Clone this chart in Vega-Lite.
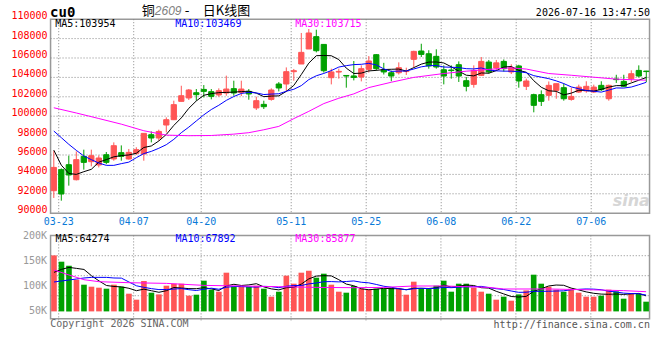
{
"$schema":"https://vega.github.io/schema/vega-lite/v6.json",
"background":"white",
"padding":{"left":10.55,"top":4.2,"right":5,"bottom":5},
"bounds":"flush",
"spacing":22.2,
"config":{
 "view":{"stroke":"#999999","strokeWidth":1.5}
},
"datasets":{
"k":[
{"d":"03-20","o":92320,"h":96440,"l":91570,"c":94720,"v":162000,"m5":96500,"m10":98470,"vm5":128000,"vm10":108800},
{"d":"03-23","o":94490,"h":94620,"l":91290,"c":91980,"v":149400,"m5":94950,"m10":97790,"vm5":134000,"vm10":110800},
{"d":"03-24","o":95000,"h":95930,"l":92840,"c":93940,"v":141400,"m5":94100,"m10":97100,"vm5":138000,"vm10":112800},
{"d":"03-25","o":93450,"h":96370,"l":93380,"c":95520,"v":113400,"m5":94000,"m10":96480,"vm5":136000,"vm10":114800},
{"d":"03-26","o":95860,"h":96550,"l":94490,"c":95240,"v":103400,"m5":94279,"m10":95900,"vm5":133900,"vm10":116800},
{"d":"03-27","o":95310,"h":96550,"l":94830,"c":95930,"v":99400,"m5":94521,"m10":95520,"vm5":121400,"vm10":118000},
{"d":"03-30","o":94970,"h":95960,"l":94720,"c":95690,"v":97400,"m5":95263,"m10":95170,"vm5":111000,"vm10":118000},
{"d":"03-31","o":96030,"h":96310,"l":95050,"c":95240,"v":95400,"m5":95523,"m10":94930,"vm5":101800,"vm10":118000},
{"d":"04-01","o":95590,"h":97300,"l":95410,"c":96960,"v":103400,"m5":95812,"m10":94930,"vm5":99800,"vm10":116800},
{"d":"04-02","o":96240,"h":96990,"l":95410,"c":95860,"v":99400,"m5":95936,"m10":95108,"vm5":99000,"vm10":116500},
{"d":"04-03","o":95590,"h":96620,"l":95520,"c":96270,"v":85400,"m5":96004,"m10":95263,"vm5":96200,"vm10":108800},
{"d":"04-07","o":96170,"h":96800,"l":96000,"c":96550,"v":73400,"m5":96176,"m10":95720,"vm5":91400,"vm10":101200},
{"d":"04-08","o":96100,"h":98230,"l":95410,"c":98230,"v":110800,"m5":96774,"m10":96149,"vm5":94500,"vm10":98100},
{"d":"04-09","o":98090,"h":98430,"l":97300,"c":97750,"v":87400,"m5":96932,"m10":96372,"vm5":91300,"vm10":95500},
{"d":"04-10","o":97750,"h":98610,"l":97470,"c":98430,"v":84000,"m5":97446,"m10":96691,"vm5":88200,"vm10":93600},
{"d":"04-13","o":99090,"h":99880,"l":98330,"c":99640,"v":101400,"m5":98120,"m10":97062,"vm5":91400,"vm10":93800},
{"d":"04-14","o":99640,"h":101600,"l":99600,"c":101190,"v":105400,"m5":99048,"m10":97612,"vm5":97800,"vm10":94600},
{"d":"04-15","o":101530,"h":103140,"l":101530,"c":102110,"v":105400,"m5":99824,"m10":98299,"vm5":96700,"vm10":95600},
{"d":"04-16","o":101880,"h":102800,"l":101670,"c":102700,"v":81400,"m5":100814,"m10":98873,"vm5":95500,"vm10":93400},
{"d":"04-17","o":102420,"h":102800,"l":101600,"c":102220,"v":83400,"m5":101572,"m10":99509,"vm5":95400,"vm10":91800},
{"d":"04-20","o":102760,"h":103210,"l":101940,"c":102560,"v":111400,"m5":102156,"m10":100138,"vm5":97400,"vm10":94400},
{"d":"04-21","o":102530,"h":102800,"l":101740,"c":102040,"v":93400,"m5":102326,"m10":100687,"vm5":95000,"vm10":96400},
{"d":"04-22","o":102190,"h":102870,"l":102010,"c":102630,"v":89400,"m5":102430,"m10":101127,"vm5":91800,"vm10":94300},
{"d":"04-23","o":102390,"h":104180,"l":102110,"c":102800,"v":127400,"m5":102450,"m10":101632,"vm5":101000,"vm10":98300},
{"d":"04-24","o":102840,"h":103660,"l":102110,"c":102390,"v":99400,"m5":102484,"m10":102028,"vm5":104200,"vm10":99800},
{"d":"04-27","o":102460,"h":103660,"l":102080,"c":102800,"v":99400,"m5":102532,"m10":102344,"vm5":101800,"vm10":99600},
{"d":"04-28","o":102560,"h":102800,"l":101700,"c":102290,"v":99400,"m5":102582,"m10":102454,"vm5":103000,"vm10":99000},
{"d":"04-29","o":100850,"h":102010,"l":100640,"c":101600,"v":101400,"m5":102376,"m10":102403,"vm5":105400,"vm10":98600},
{"d":"04-30","o":101220,"h":101600,"l":100740,"c":100980,"v":95400,"m5":102012,"m10":102231,"vm5":99000,"vm10":100000},
{"d":"05-06","o":101730,"h":102870,"l":101600,"c":102700,"v":79400,"m5":102074,"m10":102279,"vm5":95000,"vm10":99600},
{"d":"05-07","o":103320,"h":103520,"l":102560,"c":102910,"v":89400,"m5":102096,"m10":102314,"vm5":93000,"vm10":97400},
{"d":"05-08","o":103320,"h":105030,"l":102560,"c":104590,"v":121400,"m5":102556,"m10":102569,"vm5":97400,"vm10":100200},
{"d":"05-11","o":104590,"h":104870,"l":103660,"c":104690,"v":105400,"m5":103174,"m10":102775,"vm5":98200,"vm10":101800},
{"d":"05-12","o":105380,"h":108580,"l":105380,"c":106580,"v":127400,"m5":104294,"m10":103153,"vm5":104600,"vm10":101800},
{"d":"05-13","o":106930,"h":108990,"l":106930,"c":108580,"v":131400,"m5":105470,"m10":103772,"vm5":115000,"vm10":105000},
{"d":"05-14","o":108200,"h":108920,"l":106580,"c":106750,"v":117400,"m5":106238,"m10":104167,"vm5":120600,"vm10":106800},
{"d":"05-15","o":107400,"h":107400,"l":104500,"c":104690,"v":125400,"m5":106258,"m10":104407,"vm5":121400,"vm10":109400},
{"d":"05-18","o":103970,"h":104900,"l":103280,"c":104560,"v":103400,"m5":106232,"m10":104703,"vm5":121000,"vm10":109600},
{"d":"05-19","o":104550,"h":104900,"l":103870,"c":104620,"v":89400,"m5":105840,"m10":105067,"vm5":113400,"vm10":109000},
{"d":"05-20","o":104200,"h":104210,"l":102940,"c":104140,"v":87400,"m5":104952,"m10":105211,"vm5":104600,"vm10":109800},
{"d":"05-21","o":104150,"h":105690,"l":103690,"c":103990,"v":100800,"m5":104400,"m10":105319,"vm5":101300,"vm10":110900},
{"d":"05-22","o":104040,"h":105240,"l":103590,"c":104900,"v":95400,"m5":104442,"m10":105350,"vm5":95300,"vm10":108300},
{"d":"05-25","o":104830,"h":106200,"l":104500,"c":105690,"v":93400,"m5":104668,"m10":105450,"vm5":93300,"vm10":107100},
{"d":"05-26","o":106340,"h":106400,"l":104700,"c":104900,"v":95400,"m5":104724,"m10":105282,"vm5":94500,"vm10":103900},
{"d":"05-27","o":104790,"h":105500,"l":104300,"c":104560,"v":95400,"m5":104808,"m10":104880,"vm5":96100,"vm10":100300},
{"d":"05-28","o":104480,"h":104700,"l":103600,"c":104140,"v":97400,"m5":104838,"m10":104619,"vm5":95400,"vm10":98300},
{"d":"05-29","o":104480,"h":105550,"l":104300,"c":105000,"v":95400,"m5":104858,"m10":104650,"vm5":95400,"vm10":95300},
{"d":"06-01","o":104600,"h":105000,"l":104250,"c":104650,"v":83400,"m5":104650,"m10":104659,"vm5":93400,"vm10":93300},
{"d":"06-02","o":105860,"h":106750,"l":105000,"c":106680,"v":109400,"m5":105006,"m10":104865,"vm5":96200,"vm10":95300},
{"d":"06-03","o":106720,"h":107470,"l":106100,"c":106370,"v":95400,"m5":105368,"m10":105088,"vm5":96200,"vm10":96100},
{"d":"06-04","o":106440,"h":106800,"l":104900,"c":105180,"v":95400,"m5":105576,"m10":105207,"vm5":95800,"vm10":95600},
{"d":"06-05","o":106170,"h":106900,"l":104900,"c":105070,"v":101400,"m5":105590,"m10":105224,"vm5":97000,"vm10":96200},
{"d":"06-08","o":104790,"h":105240,"l":103280,"c":104140,"v":111400,"m5":105488,"m10":105069,"vm5":102600,"vm10":98000},
{"d":"06-09","o":104760,"h":105240,"l":103870,"c":104700,"v":89400,"m5":105092,"m10":105049,"vm5":98600,"vm10":97400},
{"d":"06-10","o":105310,"h":105650,"l":103530,"c":104140,"v":105400,"m5":104646,"m10":105007,"vm5":100600,"vm10":98400},
{"d":"06-11","o":103660,"h":104040,"l":102560,"c":103080,"v":105400,"m5":104226,"m10":104901,"vm5":102600,"vm10":99200},
{"d":"06-12","o":103280,"h":105240,"l":102940,"c":104720,"v":97400,"m5":104156,"m10":104873,"vm5":101800,"vm10":99400},
{"d":"06-15","o":104210,"h":106100,"l":104140,"c":105650,"v":89400,"m5":104458,"m10":104973,"vm5":97400,"vm10":100000},
{"d":"06-16","o":105580,"h":105800,"l":104400,"c":104560,"v":85400,"m5":104430,"m10":104761,"vm5":96600,"vm10":97600},
{"d":"06-17","o":104970,"h":105800,"l":104700,"c":105500,"v":73400,"m5":104702,"m10":104674,"vm5":90200,"vm10":95400},
{"d":"06-18","o":105650,"h":105850,"l":104600,"c":104900,"v":79400,"m5":105066,"m10":104646,"vm5":85000,"vm10":93800},
{"d":"06-19","o":104560,"h":105350,"l":104350,"c":105000,"v":71400,"m5":105122,"m10":104639,"vm5":79800,"vm10":90800},
{"d":"06-22","o":105180,"h":105300,"l":102940,"c":103630,"v":84000,"m5":104718,"m10":104588,"vm5":78700,"vm10":88100},
{"d":"06-23","o":103080,"h":103870,"l":102700,"c":103630,"v":92000,"m5":104532,"m10":104481,"vm5":80000,"vm10":88300},
{"d":"06-24","o":102220,"h":102320,"l":100400,"c":101120,"v":123400,"m5":103656,"m10":104179,"vm5":90000,"vm10":90100},
{"d":"06-25","o":102220,"h":102660,"l":101050,"c":101530,"v":105400,"m5":102982,"m10":104024,"vm5":95200,"vm10":90100},
{"d":"06-26","o":102150,"h":103580,"l":101600,"c":103180,"v":99400,"m5":102618,"m10":103870,"vm5":100800,"vm10":90300},
{"d":"06-29","o":102660,"h":103350,"l":101800,"c":103350,"v":93400,"m5":102562,"m10":103640,"vm5":102700,"vm10":90700},
{"d":"06-30","o":102940,"h":103350,"l":101600,"c":101800,"v":89400,"m5":102196,"m10":103364,"vm5":102200,"vm10":91100},
{"d":"07-01","o":101730,"h":102940,"l":101600,"c":102040,"v":95400,"m5":102380,"m10":103018,"vm5":96600,"vm10":93300},
{"d":"07-02","o":102490,"h":103250,"l":102400,"c":103000,"v":87400,"m5":102674,"m10":102828,"vm5":93000,"vm10":94100},
{"d":"07-03","o":102600,"h":103600,"l":102420,"c":103080,"v":79400,"m5":102654,"m10":102636,"vm5":89000,"vm10":94900},
{"d":"07-06","o":102490,"h":103250,"l":102400,"c":103000,"v":79400,"m5":102584,"m10":102573,"vm5":86200,"vm10":94500},
{"d":"07-07","o":103180,"h":103600,"l":102600,"c":102730,"v":81400,"m5":102770,"m10":102483,"vm5":84600,"vm10":93400},
{"d":"07-08","o":101800,"h":103250,"l":101600,"c":103180,"v":93400,"m5":102998,"m10":102689,"vm5":84200,"vm10":90400},
{"d":"07-09","o":103830,"h":104270,"l":103430,"c":103770,"v":90000,"m5":103152,"m10":102913,"vm5":84700,"vm10":88900},
{"d":"07-10","o":103590,"h":104270,"l":103000,"c":103080,"v":75400,"m5":103152,"m10":102903,"vm5":83900,"vm10":86500},
{"d":"07-13","o":103870,"h":104730,"l":103520,"c":104380,"v":85400,"m5":103428,"m10":103006,"vm5":85100,"vm10":85700},
{"d":"07-14","o":104720,"h":105240,"l":104000,"c":104140,"v":85400,"m5":103708,"m10":103239,"vm5":85900,"vm10":85300},
{"d":"07-15","o":104650,"h":104680,"l":103520,"c":104600,"v":69400,"m5":103992,"m10":103495,"vm5":81100,"vm10":82700}
],
"m30":[
{"d":"03-20","p":100870},{"d":"03-25","p":100330},{"d":"03-30","p":99760},{"d":"04-02","p":99180},{"d":"04-08","p":98500},{"d":"04-13","p":98050},{"d":"04-16","p":97990},{"d":"04-21","p":98010},{"d":"04-24","p":98150},{"d":"04-28","p":98300},{"d":"04-30","p":98600},{"d":"05-07","p":98950},{"d":"05-11","p":99750},{"d":"05-13","p":100500},{"d":"05-15","p":101300},{"d":"05-19","p":101850},{"d":"05-21","p":102300},{"d":"05-25","p":102950},{"d":"05-28","p":103500},{"d":"06-02","p":104000},{"d":"06-08","p":104400},{"d":"06-11","p":104640},{"d":"06-16","p":104830},{"d":"06-19","p":104980},{"d":"06-23","p":104860},{"d":"06-26","p":104400},{"d":"07-01","p":104220},{"d":"07-06","p":104020},{"d":"07-09","p":103820},{"d":"07-15","p":103710}
],
"vm30":[
{"d":"03-20","v":132800},{"d":"03-24","v":122800},{"d":"03-26","v":113400},{"d":"03-30","v":109400},{"d":"04-03","v":107400},{"d":"04-13","v":106000},{"d":"04-20","v":102000},{"d":"04-27","v":100800},{"d":"05-07","v":99400},{"d":"05-14","v":98000},{"d":"05-21","v":97400},{"d":"05-27","v":98000},{"d":"06-02","v":100800},{"d":"06-08","v":100800},{"d":"06-16","v":98000},{"d":"06-18","v":94800},{"d":"06-26","v":94800},{"d":"07-06","v":93000},{"d":"07-10","v":91500},{"d":"07-15","v":89400}
],
"plab":[{"d":"03-20","s":"MA5","t":"MA5:103954"},{"d":"04-14","s":"MA10","t":"MA10:103469"},{"d":"05-11","s":"MA30","t":"MA30:103715"}],
"vlab":[{"d":"03-20","s":"MA5","t":"MA5:64274"},{"d":"04-14","s":"MA10","t":"MA10:67892"},{"d":"05-11","s":"MA30","t":"MA30:85877"}],
"pgrid":[{"g":92000},{"g":94000},{"g":96000},{"g":98000},{"g":100000},{"g":102000},{"g":104000},{"g":106000},{"g":108000}],
"ptick":[{"g":90000},{"g":92000},{"g":94000},{"g":96000},{"g":98000},{"g":100000},{"g":102000},{"g":104000},{"g":106000},{"g":108000},{"g":110000}],
"xgrid":[{"d":"03-23"},{"d":"04-07"},{"d":"04-20"},{"d":"05-11"},{"d":"05-25"},{"d":"06-08"},{"d":"06-22"},{"d":"07-06"}],
"vgrid":[{"g":161400},{"g":121400},{"g":81400}],
"vtick":[{"g":50000,"t":"50K"},{"g":100000,"t":"100K"},{"g":150000,"t":"150K"},{"g":200000,"t":"200K"}]
},
"vconcat":[
{
"width":599,"height":194,
"layer":[
{"data":{"name":"pgrid"},"mark":{"type":"rule","color":"#888888","strokeDash":[1,2],"strokeWidth":1,"xOffset":-3.25,"x2Offset":3.25},
 "encoding":{"y":{"field":"g","type":"quantitative","title":null},"x":{"datum":"03-20","type":"ordinal","title":null},"x2":{"datum":"07-15"}}},
{"data":{"name":"xgrid"},"mark":{"type":"rule","color":"#888888","strokeDash":[1,2],"strokeWidth":1,"xOffset":-2.6},
 "encoding":{"x":{"field":"d","type":"ordinal","title":null},"y":{"datum":110000,"type":"quantitative","title":null},"y2":{"datum":90000}}},
{"data":{"name":"xgrid"},"mark":{"type":"text","align":"center","baseline":"middle","xOffset":-2.6,"font":"DejaVu Sans Mono","fontSize":10,"color":"#0a7ad8"},
 "encoding":{"x":{"field":"d","type":"ordinal","title":null},"y":{"datum":89120,"type":"quantitative","title":null},"text":{"field":"d"}}},
{"data":{"name":"ptick"},"mark":{"type":"text","align":"right","baseline":"middle","dy":-3,"xOffset":-6.3,"font":"DejaVu Sans Mono","fontSize":10,"color":"#ff0000"},
 "encoding":{"y":{"field":"g","type":"quantitative","title":null},"x":{"datum":"03-20","type":"ordinal","title":null},"text":{"field":"g","type":"quantitative","format":"d"}}},
{"data":{"name":"k"},"mark":{"type":"rule","strokeWidth":1},
 "encoding":{
  "x":{"field":"d","type":"ordinal","title":null,"scale":{"paddingInner":0.3,"paddingOuter":0.083},"axis":null},
  "y":{"field":"l","type":"quantitative","title":null,"scale":{"domain":[90000,110000],"nice":false,"zero":false},"axis":null},
  "y2":{"field":"h"},
  "color":{"condition":{"test":"datum.c >= datum.o","value":"#ff5555"},"value":"#00a000"}}},
{"data":{"name":"k"},"mark":{"type":"bar","strokeWidth":1},
 "encoding":{
  "x":{"field":"d","type":"ordinal","title":null},
  "y":{"field":"o","type":"quantitative","title":null},
  "y2":{"field":"c"},
  "color":{"condition":{"test":"datum.c >= datum.o","value":"#ff5555"},"value":"#00a000"},
  "stroke":{"condition":{"test":"datum.c >= datum.o","value":"#ff5555"},"value":"#00a000"}}},
{"data":{"name":"k"},"mark":{"type":"line","color":"#000000","strokeWidth":1},
 "encoding":{"x":{"field":"d","type":"ordinal","title":null},"y":{"field":"m5","type":"quantitative","title":null}}},
{"data":{"name":"k"},"mark":{"type":"line","color":"#0000ff","strokeWidth":1},
 "encoding":{"x":{"field":"d","type":"ordinal","title":null},"y":{"field":"m10","type":"quantitative","title":null}}},
{"data":{"name":"m30"},"mark":{"type":"line","color":"#ff00ff","strokeWidth":1},
 "encoding":{"x":{"field":"d","type":"ordinal","title":null},"y":{"field":"p","type":"quantitative","title":null}}},
{"data":{"name":"plab"},"mark":{"type":"text","align":"left","baseline":"middle","dx":1.5,"font":"DejaVu Sans Mono","fontSize":10},
 "encoding":{"x":{"field":"d","type":"ordinal","title":null},"y":{"datum":109500,"type":"quantitative","title":null},"text":{"field":"t"},
  "color":{"field":"s","type":"nominal","scale":{"domain":["MA5","MA10","MA30"],"range":["#000000","#0000ff","#ff00ff"]},"legend":null}}},
{"data":{"values":[{"t":"cu0"}]},"mark":{"type":"text","align":"left","baseline":"middle","dx":-3.7,"font":"DejaVu Sans Mono","fontSize":14,"fontWeight":"bold","color":"#000000"},
 "encoding":{"x":{"datum":"03-20","type":"ordinal","title":null},"y":{"datum":110670,"type":"quantitative","title":null},"text":{"field":"t"}}},
{"data":{"values":[{"t":"铜"}]},"mark":{"type":"text","align":"left","baseline":"middle","dx":5.5,"font":"Noto Sans CJK SC","fontSize":13,"color":"#000000"},
 "encoding":{"x":{"datum":"04-07","type":"ordinal","title":null},"y":{"datum":110804,"type":"quantitative","title":null},"text":{"field":"t"}}},
{"data":{"values":[{"t":"2609"}]},"mark":{"type":"text","align":"left","baseline":"middle","dx":18.5,"font":"Liberation Sans","fontSize":12,"fontStyle":"italic","color":"#808080"},
 "encoding":{"x":{"datum":"04-07","type":"ordinal","title":null},"y":{"datum":110804,"type":"quantitative","title":null},"text":{"field":"t"}}},
{"data":{"values":[{"t":"-"}]},"mark":{"type":"text","align":"left","baseline":"middle","dx":48.5,"font":"DejaVu Sans","fontSize":13,"color":"#000000"},
 "encoding":{"x":{"datum":"04-07","type":"ordinal","title":null},"y":{"datum":110804,"type":"quantitative","title":null},"text":{"field":"t"}}},
{"data":{"values":[{"t":"日K线图"}]},"mark":{"type":"text","align":"left","baseline":"middle","dx":66.5,"font":"Noto Sans CJK SC","fontSize":13,"color":"#000000"},
 "encoding":{"x":{"datum":"04-07","type":"ordinal","title":null},"y":{"datum":110804,"type":"quantitative","title":null},"text":{"field":"t"}}},
{"data":{"values":[{"t":"2026-07-16 13:47:50"}]},"mark":{"type":"text","align":"right","baseline":"middle","dx":3.8,"font":"DejaVu Sans Mono","fontSize":10,"color":"#000000"},
 "encoding":{"x":{"datum":"07-15","type":"ordinal","title":null},"y":{"datum":110670,"type":"quantitative","title":null},"text":{"field":"t"}}},
{"data":{"values":[{"t":"sina"}]},"mark":{"type":"text","align":"center","baseline":"middle","font":"DejaVu Sans","fontSize":16,"fontWeight":"bold","fontStyle":"italic","color":"#cccccc","opacity":0.8},
 "encoding":{"x":{"datum":"07-13","type":"ordinal","title":null},"y":{"datum":91300,"type":"quantitative","title":null},"text":{"field":"t"}}}
]
},
{
"width":599,"height":83.3,
"layer":[
{"data":{"name":"vgrid"},"mark":{"type":"rule","color":"#888888","strokeDash":[1,2],"strokeWidth":1,"xOffset":-3.25,"x2Offset":3.25},
 "encoding":{"y":{"field":"g","type":"quantitative","title":null},"x":{"datum":"03-20","type":"ordinal","title":null},"x2":{"datum":"07-15"}}},
{"data":{"name":"xgrid"},"mark":{"type":"rule","color":"#888888","strokeDash":[1,2],"strokeWidth":1,"xOffset":-2.8},
 "encoding":{"x":{"field":"d","type":"ordinal","title":null},"y":{"datum":202000,"type":"quantitative","title":null},"y2":{"datum":32000}}},
{"data":{"name":"vtick"},"mark":{"type":"text","align":"right","baseline":"middle","xOffset":-7,"font":"DejaVu Sans Mono","fontSize":10,"color":"#999999"},
 "encoding":{"y":{"field":"g","type":"quantitative","title":null},"x":{"datum":"03-20","type":"ordinal","title":null},"text":{"field":"t"}}},
{"data":{"name":"k"},"mark":{"type":"bar"},
 "encoding":{
  "x":{"field":"d","type":"ordinal","title":null,"scale":{"paddingInner":0.25,"paddingOuter":0.083},"axis":null},
  "y":{"field":"v","type":"quantitative","title":null,"scale":{"domain":[35400,202000],"nice":false,"zero":false},"axis":null},
  "y2":{"datum":50000},
  "color":{"condition":{"test":"datum.c >= datum.o","value":"#ff5555"},"value":"#00a000"}}},
{"data":{"name":"k"},"mark":{"type":"line","color":"#000000","strokeWidth":1},
 "encoding":{"x":{"field":"d","type":"ordinal","title":null},"y":{"field":"vm5","type":"quantitative","title":null}}},
{"data":{"name":"k"},"mark":{"type":"line","color":"#0000ff","strokeWidth":1},
 "encoding":{"x":{"field":"d","type":"ordinal","title":null},"y":{"field":"vm10","type":"quantitative","title":null}}},
{"data":{"name":"vm30"},"mark":{"type":"line","color":"#ff00ff","strokeWidth":1},
 "encoding":{"x":{"field":"d","type":"ordinal","title":null},"y":{"field":"v","type":"quantitative","title":null}}},
{"data":{"name":"vlab"},"mark":{"type":"text","align":"left","baseline":"middle","dx":1.5,"font":"DejaVu Sans Mono","fontSize":10},
 "encoding":{"x":{"field":"d","type":"ordinal","title":null},"y":{"datum":194800,"type":"quantitative","title":null},"text":{"field":"t"},
  "color":{"field":"s","type":"nominal","scale":{"domain":["MA5","MA10","MA30"],"range":["#000000","#0000ff","#ff00ff"]},"legend":null}}},
{"data":{"values":[{"t":"Copyright 2026 SINA.COM"}]},"mark":{"type":"text","align":"left","baseline":"middle","dx":-3.7,"font":"DejaVu Sans Mono","fontSize":10,"color":"#666666"},
 "encoding":{"x":{"datum":"03-20","type":"ordinal","title":null},"y":{"datum":24000,"type":"quantitative","title":null},"text":{"field":"t"}}},
{"data":{"values":[{"t":"http://finance.sina.com.cn"}]},"mark":{"type":"text","align":"right","baseline":"middle","dx":3.8,"font":"DejaVu Sans Mono","fontSize":10,"color":"#555555"},
 "encoding":{"x":{"datum":"07-15","type":"ordinal","title":null},"y":{"datum":23400,"type":"quantitative","title":null},"text":{"field":"t"}}}
]
}
]
}
